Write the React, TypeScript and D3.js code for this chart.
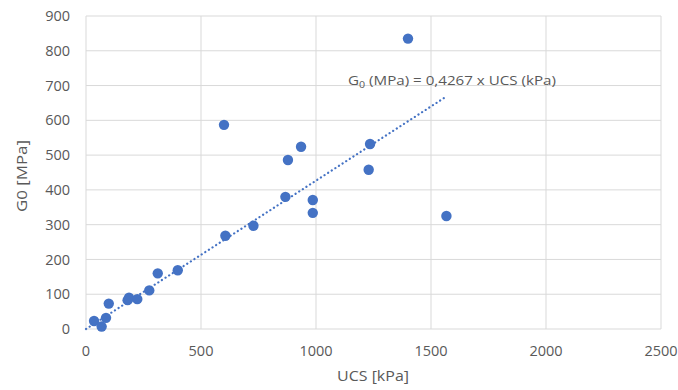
import React from "react";
import * as d3 from "d3";

const ucs = [35, 68, 87, 99, 181, 187, 223, 275, 312, 399, 606, 728, 867, 986, 986, 1567, 600, 878, 935, 1235, 1229, 1400];
const g0 = [23, 7, 32, 73, 83, 90, 86, 111, 160, 169, 268, 297, 380, 371, 334, 325, 587, 486, 524, 532, 458, 835];
const xTicks = [0, 500, 1000, 1500, 2000, 2500];
const yTicks = [0, 100, 200, 300, 400, 500, 600, 700, 800, 900];
const slope = 0.4267;

const W = 678, H = 390;
const left = 86, right = 661, top = 16, bottom = 329;
const font = "'Open Sans', 'Liberation Sans', sans-serif";
const blue = "#4472C4";
const txt = "#595959";

export default function App() {
  const x = d3.scaleLinear().domain([0, 2500]).range([left, right]);
  const y = d3.scaleLinear().domain([0, 900]).range([bottom, top]);
  const xMax = d3.max(ucs) as number;
  const line = d3.line<number>().x((d) => x(d)).y((d) => y(slope * d));
  return (
    <svg width={W} height={H} style={{ position: "absolute", left: 0, top: 0, background: "#fff" }} fontFamily={font}>
      {yTicks.map((t) => (
        <line key={"gy" + t} x1={left} x2={right} y1={y(t)} y2={y(t)} stroke="#D9D9D9" strokeWidth={1} />
      ))}
      {xTicks.map((t) => (
        <line key={"gx" + t} x1={x(t)} x2={x(t)} y1={top} y2={bottom} stroke="#D9D9D9" strokeWidth={1} />
      ))}
      {yTicks.map((t) => (
        <text key={"ty" + t} x={70} y={y(t)} dy="0.35em" textAnchor="end" fontSize={14.5} fill={txt}>{t}</text>
      ))}
      {xTicks.map((t) => (
        <text key={"tx" + t} x={x(t)} y={351} dy="0.35em" textAnchor="middle" fontSize={14.5} fill={txt}>{t}</text>
      ))}
      <text x={373} y={376} dy="0.35em" textAnchor="middle" fontSize={15} fill={txt} textLength={72} lengthAdjust="spacingAndGlyphs">UCS [kPa]</text>
      <text transform={`translate(22,176) rotate(-90)`} dy="0.35em" textAnchor="middle" fontSize={15} fill={txt} textLength={72} lengthAdjust="spacingAndGlyphs">G0 [MPa]</text>
      <path d={line([0, xMax]) || ""} fill="none" stroke={blue} strokeWidth={2.2} strokeDasharray="0.1 4.2" strokeLinecap="round" />
      {ucs.map((u, i) => (
        <circle key={"p" + i} cx={x(u)} cy={y(g0[i])} r={5.2} fill={blue} />
      ))}
      <text x={348} y={80} dy="0.35em" fontSize={13.5} fill={txt} textLength={208} lengthAdjust="spacingAndGlyphs">
        G<tspan fontSize={9.5} dy="3">0</tspan><tspan dy="-3"> (MPa) = 0,4267 x UCS (kPa)</tspan>
      </text>
    </svg>
  );
}
